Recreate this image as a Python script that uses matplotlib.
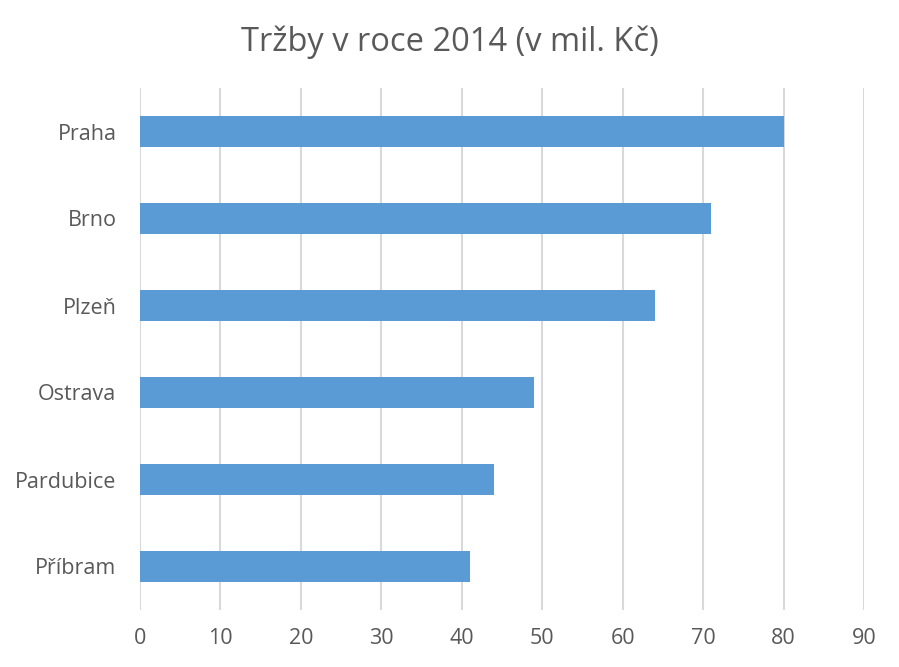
import matplotlib
matplotlib.use("Agg")
import matplotlib.pyplot as plt

plt.rcParams['font.family'] = ['Open Sans', 'DejaVu Sans']

mesta = ["Praha", "Brno", "Plzeň", "Ostrava", "Pardubice", "Příbram"]
trzby = [80, 71, 64, 49, 44, 41]
ticks = [0, 10, 20, 30, 40, 50, 60, 70, 80, 90]

text_col = "#595959"

fig = plt.figure(figsize=(8.99, 6.67), dpi=100)
ax = fig.add_axes([140/899, 1-610/667, (864-140)/899, (610-88)/667])

pos = list(range(len(mesta)))[::-1]
ax.barh(pos, trzby, height=0.35, color="#5b9bd5", zorder=3)

ax.set_xlim(0, 90)
ax.set_ylim(-0.5, len(mesta)-0.5)
ax.set_xticks(ticks)
ax.set_yticks(pos)
ax.set_yticklabels(mesta)
ax.grid(axis='x', color="#d9d9d9", linewidth=1.5, zorder=0)
for s in ax.spines.values():
    s.set_visible(False)
ax.tick_params(axis='both', length=0, labelsize=15.5, colors=text_col)
ax.tick_params(axis='x', pad=13)
ax.tick_params(axis='y', pad=17)

fig.suptitle("Tržby v roce 2014 (v mil. Kč)", y=0.962, fontsize=23.5, color=text_col)

fig.savefig("out.png", dpi=100)
